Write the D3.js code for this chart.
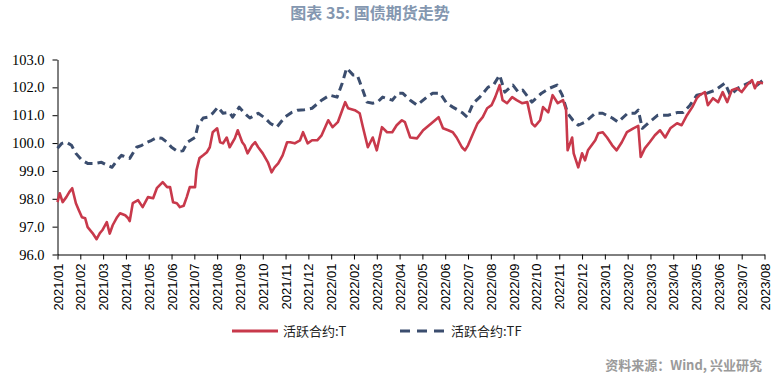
<!DOCTYPE html>
<html>
<head>
<meta charset="utf-8">
<script src="https://cdn.jsdelivr.net/npm/d3@7"></script>
<style>
  body { margin: 0; background: #fff; }
  svg { display: block; }
</style>
</head>
<body>
<div id="chart"></div>
<script>
// 月份刻度
const xTickLabels = [
  "2021/01", "2021/02", "2021/03", "2021/04", "2021/05", "2021/06", "2021/07", "2021/08",
  "2021/09", "2021/10", "2021/11", "2021/12", "2022/01", "2022/02", "2022/03", "2022/04",
  "2022/05", "2022/06", "2022/07", "2022/08", "2022/09", "2022/10", "2022/11", "2022/12",
  "2023/01", "2023/02", "2023/03", "2023/04", "2023/05", "2023/06", "2023/07", "2023/08"
];
const yTicks = [96, 97, 98, 99, 100, 101, 102, 103];

// 活跃合约:T
const tDates = [
  "2021-01-01", "2021-01-04", "2021-01-08", "2021-01-13", "2021-01-17", "2021-01-21", "2021-01-26", "2021-01-30",
  "2021-02-03", "2021-02-07", "2021-02-10", "2021-02-16", "2021-02-21", "2021-02-25", "2021-02-28",
  "2021-03-06", "2021-03-10", "2021-03-14", "2021-03-20", "2021-03-24", "2021-03-31",
  "2021-04-04", "2021-04-06", "2021-04-10", "2021-04-17", "2021-04-23", "2021-04-30",
  "2021-05-07", "2021-05-12", "2021-05-16", "2021-05-20", "2021-05-26", "2021-05-30",
  "2021-06-03", "2021-06-08", "2021-06-12", "2021-06-17", "2021-06-21", "2021-06-25",
  "2021-07-02", "2021-07-04", "2021-07-08", "2021-07-13", "2021-07-18", "2021-07-22", "2021-07-26",
  "2021-08-01", "2021-08-05", "2021-08-09", "2021-08-14", "2021-08-18", "2021-08-25", "2021-08-29",
  "2021-09-04", "2021-09-07", "2021-09-11", "2021-09-17", "2021-09-21", "2021-09-25",
  "2021-10-01", "2021-10-08", "2021-10-13", "2021-10-17", "2021-10-22", "2021-10-28",
  "2021-11-03", "2021-11-07", "2021-11-13", "2021-11-20", "2021-11-24", "2021-11-30",
  "2021-12-06", "2021-12-13", "2021-12-19", "2021-12-28",
  "2022-01-03", "2022-01-10", "2022-01-16", "2022-01-20", "2022-01-24",
  "2022-02-02", "2022-02-08", "2022-02-12", "2022-02-18", "2022-02-24",
  "2022-03-01", "2022-03-08", "2022-03-15", "2022-03-22", "2022-03-28",
  "2022-04-04", "2022-04-08", "2022-04-15", "2022-04-24",
  "2022-05-02", "2022-05-15", "2022-05-23", "2022-05-29",
  "2022-06-05", "2022-06-11", "2022-06-16", "2022-06-23", "2022-06-27",
  "2022-07-01", "2022-07-08", "2022-07-14", "2022-07-21", "2022-07-27",
  "2022-08-02", "2022-08-07", "2022-08-13", "2022-08-17", "2022-08-23", "2022-08-30",
  "2022-09-05", "2022-09-12", "2022-09-19", "2022-09-25", "2022-09-29",
  "2022-10-06", "2022-10-10", "2022-10-17", "2022-10-23", "2022-10-30",
  "2022-11-06", "2022-11-10", "2022-11-12", "2022-11-18", "2022-11-20", "2022-11-26",
  "2022-12-01", "2022-12-05", "2022-12-09", "2022-12-19", "2022-12-23", "2022-12-29",
  "2023-01-04", "2023-01-11", "2023-01-17", "2023-01-24", "2023-01-31",
  "2023-02-08", "2023-02-14", "2023-02-17", "2023-02-22", "2023-02-28",
  "2023-03-07", "2023-03-14", "2023-03-21", "2023-03-28",
  "2023-04-06", "2023-04-12", "2023-04-19", "2023-04-26",
  "2023-05-02", "2023-05-06", "2023-05-13", "2023-05-17", "2023-05-24", "2023-05-31",
  "2023-06-06", "2023-06-12", "2023-06-18", "2023-06-25",
  "2023-07-01", "2023-07-08", "2023-07-15", "2023-07-19", "2023-07-23", "2023-07-30"
];
const tValues = [
  97.88, 98.2, 97.88, 98.06, 98.24, 98.38, 97.84, 97.59,
  97.34, 97.3, 96.98, 96.77, 96.55, 96.77, 96.87,
  97.16, 96.75, 97.05, 97.34, 97.48, 97.41,
  97.3, 97.2, 97.84, 97.95, 97.7, 98.06,
  98.02, 98.38, 98.49, 98.6, 98.42, 98.42,
  97.88, 97.84, 97.7, 97.75, 98.06, 98.42,
  98.42, 99.03, 99.46, 99.56, 99.67, 99.85, 100.39,
  100.53, 100.03, 99.99, 100.2, 99.85, 100.17, 100.46,
  100.03, 99.92, 99.63, 99.92, 100.03, 99.85,
  99.63, 99.31, 98.95, 99.13, 99.27, 99.56,
  100.03, 100.03, 99.99, 100.1, 100.39, 99.99,
  100.1, 100.1, 100.28, 100.82,
  100.57, 100.75, 101.18, 101.47, 101.25,
  101.18, 101.07, 100.57, 99.85, 100.2,
  99.74, 100.57, 100.39, 100.39, 100.64,
  100.82, 100.75, 100.2, 100.17,
  100.46, 100.75, 100.93, 100.53,
  100.46, 100.39, 100.2, 99.85, 99.74,
  99.92, 100.35, 100.71, 100.93, 101.25,
  101.36, 101.65, 102.08, 101.54, 101.43, 101.65,
  101.54, 101.43, 101.47, 100.71, 100.6,
  100.82, 101.29, 101.1, 101.72, 101.43,
  101.54, 101.18, 99.74, 100.2, 99.63, 99.13,
  99.63, 99.38, 99.74, 100.1, 100.35, 100.39,
  100.2, 99.92, 99.74, 100.03, 100.39,
  100.53, 100.62, 99.5, 99.81, 100.03,
  100.28, 100.46, 100.2, 100.53,
  100.71, 100.64, 101.0, 101.29,
  101.61, 101.72, 101.83, 101.36, 101.61, 101.47,
  101.83, 101.47, 101.9, 101.97,
  101.83, 102.08, 102.26, 101.97, 102.18, 102.15
];

// 活跃合约:TF
const tfDates = [
  "2021-01-01", "2021-01-07", "2021-01-13", "2021-01-20", "2021-01-26",
  "2021-02-03", "2021-02-10", "2021-02-19", "2021-02-27",
  "2021-03-07", "2021-03-13", "2021-03-20", "2021-03-26",
  "2021-04-06", "2021-04-15", "2021-04-22", "2021-04-29",
  "2021-05-05", "2021-05-12", "2021-05-19", "2021-05-26",
  "2021-06-01", "2021-06-09", "2021-06-16", "2021-06-22",
  "2021-07-02", "2021-07-06", "2021-07-13", "2021-07-19", "2021-07-26",
  "2021-08-02", "2021-08-09", "2021-08-18", "2021-08-22", "2021-08-31",
  "2021-09-07", "2021-09-14", "2021-09-25",
  "2021-10-04", "2021-10-11", "2021-10-20", "2021-10-31",
  "2021-11-09", "2021-11-17", "2021-11-26",
  "2021-12-06", "2021-12-19", "2021-12-30",
  "2022-01-09", "2022-01-16", "2022-01-22", "2022-01-31",
  "2022-02-05", "2022-02-11", "2022-02-17", "2022-02-24",
  "2022-03-02", "2022-03-09", "2022-03-22", "2022-03-30",
  "2022-04-05", "2022-04-15", "2022-04-24",
  "2022-05-07", "2022-05-15", "2022-05-25",
  "2022-06-03", "2022-06-11", "2022-06-23", "2022-06-30",
  "2022-07-08", "2022-07-17", "2022-07-28",
  "2022-08-05", "2022-08-13", "2022-08-20", "2022-08-31",
  "2022-09-07", "2022-09-13", "2022-09-25",
  "2022-10-08", "2022-10-19", "2022-10-29",
  "2022-11-05", "2022-11-12", "2022-11-19", "2022-11-26",
  "2022-12-05", "2022-12-19", "2022-12-29",
  "2023-01-11", "2023-01-19",
  "2023-02-01", "2023-02-10", "2023-02-14", "2023-02-19", "2023-02-26",
  "2023-03-11", "2023-03-25",
  "2023-04-07", "2023-04-14", "2023-04-23",
  "2023-05-02", "2023-05-16", "2023-05-27",
  "2023-06-09", "2023-06-16", "2023-06-26",
  "2023-07-12", "2023-07-22", "2023-07-30"
];
const tfValues = [
  99.81, 99.99, 100.03, 99.92, 99.63,
  99.38, 99.27, 99.27, 99.31,
  99.2, 99.13, 99.38, 99.56,
  99.45, 99.85, 99.92, 100.03,
  100.1, 100.2, 100.17, 100.03,
  99.85, 99.7, 99.72, 100.03,
  100.2, 100.64, 100.9, 100.93, 101.07,
  101.29, 101.07, 101.1, 100.93, 101.29,
  101.07, 100.9, 101.07,
  100.9, 100.71, 100.57, 100.93,
  101.1, 101.18, 101.2,
  101.25, 101.54, 101.72,
  101.65, 102.15, 102.69, 102.44,
  102.44, 101.97, 101.47, 101.43,
  101.47, 101.65, 101.54, 101.79,
  101.79, 101.54, 101.36,
  101.65, 101.79, 101.79,
  101.43, 101.29, 101.1, 100.93,
  101.43, 101.65, 102.0,
  102.1, 102.44, 101.83, 102.08,
  101.83, 101.9, 101.47,
  101.79, 101.97, 102.08,
  101.72, 101.07, 100.82, 100.64,
  100.75, 101.07, 101.07,
  100.9, 100.75,
  101.07, 101.07, 101.18, 100.53, 100.71,
  101.0, 101.0,
  101.1, 101.1, 101.36,
  101.72, 101.79, 101.9,
  102.15, 101.72, 101.97,
  102.18, 102.08, 102.26
];

const width = 778;
const height = 377;
const margin = { top: 59.5, right: 13.5, bottom: 122.5, left: 57.5 };

const red = "#C8394B";
const navy = "#3B4D6E";

// 日期 -> 月份序号(带小数)
function monthPos(s) {
  const [y, m, d] = s.split("-").map(Number);
  const dim = new Date(y, m, 0).getDate();
  return (y - 2021) * 12 + (m - 1) + (d - 1) / dim;
}

const svg = d3
  .select("#chart")
  .append("svg")
  .attr("width", width)
  .attr("height", height);

const x = d3
  .scaleLinear()
  .domain([0, xTickLabels.length - 1])
  .range([margin.left, width - margin.right]);

const y = d3
  .scaleLinear()
  .domain([96, 103])
  .range([height - margin.bottom, margin.top]);

// 标题
svg
  .append("text")
  .attr("x", 370)
  .attr("y", 19)
  .attr("text-anchor", "middle")
  .style("font-family", "'Noto Sans CJK SC', sans-serif")
  .style("font-size", "16px")
  .style("font-weight", "bold")
  .style("fill", "#8497B0")
  .text("图表 35: 国债期货走势");

// Y轴
const yAxis = svg
  .append("g")
  .attr("transform", `translate(${margin.left},0)`)
  .call(
    d3.axisLeft(y)
      .tickValues(yTicks)
      .tickFormat(d3.format(".1f"))
      .tickSize(5)
      .tickPadding(8)
      .tickSizeOuter(0)
  );
yAxis.selectAll("text")
  .style("font-family", "'Liberation Serif', serif")
  .style("font-size", "14.5px")
  .style("fill", "#000");

// X轴
const xAxis = svg
  .append("g")
  .attr("transform", `translate(0,${y(96)})`)
  .call(
    d3.axisBottom(x)
      .tickValues(d3.range(xTickLabels.length))
      .tickFormat((i) => xTickLabels[i])
      .tickSize(5)
      .tickSizeOuter(0)
  );
xAxis.selectAll("text")
  .attr("transform", "rotate(-90)")
  .attr("x", -9)
  .attr("y", 0)
  .attr("dy", "0.35em")
  .style("text-anchor", "end")
  .style("font-family", "'Liberation Sans', sans-serif")
  .style("font-size", "13px")
  .style("fill", "#000");

svg.selectAll(".domain, .tick line").attr("stroke", "#000");

const line = d3
  .line()
  .x((d) => x(monthPos(d.date)))
  .y((d) => y(d.value));

const tData = tDates.map((d, i) => ({ date: d, value: tValues[i] }));
const tfData = tfDates.map((d, i) => ({ date: d, value: tfValues[i] }));

svg
  .append("path")
  .datum(tfData)
  .attr("fill", "none")
  .attr("stroke", navy)
  .attr("stroke-width", 3)
  .attr("stroke-dasharray", "8,5")
  .attr("stroke-linejoin", "round")
  .attr("d", line);

svg
  .append("path")
  .datum(tData)
  .attr("fill", "none")
  .attr("stroke", red)
  .attr("stroke-width", 2.6)
  .attr("stroke-linejoin", "round")
  .attr("d", line);

// 图例
const legendFont = "'Noto Sans CJK SC', sans-serif";
svg.append("line")
  .attr("x1", 232).attr("x2", 278)
  .attr("y1", 331).attr("y2", 331)
  .attr("stroke", red).attr("stroke-width", 3);
svg.append("text")
  .attr("x", 283).attr("y", 336)
  .style("font-family", legendFont)
  .style("font-size", "13px")
  .style("fill", "#222")
  .text("活跃合约:T");

svg.append("line")
  .attr("x1", 400).attr("x2", 446)
  .attr("y1", 331).attr("y2", 331)
  .attr("stroke", navy).attr("stroke-width", 3)
  .attr("stroke-dasharray", "10,7");
svg.append("text")
  .attr("x", 451).attr("y", 336)
  .style("font-family", legendFont)
  .style("font-size", "13px")
  .style("fill", "#222")
  .text("活跃合约:TF");

// 资料来源
svg.append("text")
  .attr("x", 762).attr("y", 370)
  .attr("text-anchor", "end")
  .style("font-family", legendFont)
  .style("font-size", "13px")
  .style("font-weight", "bold")
  .style("fill", "#9A9A9A")
  .text("资料来源：Wind, 兴业研究");
</script>
</body>
</html>
